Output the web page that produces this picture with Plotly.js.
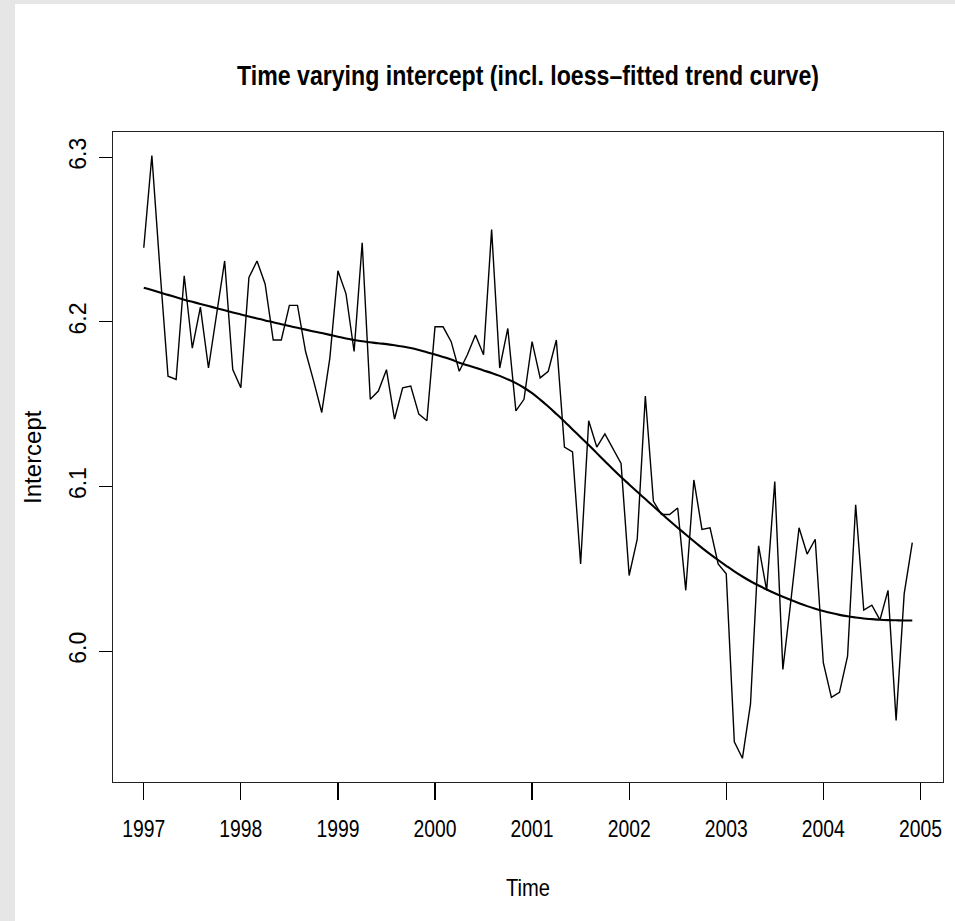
<!DOCTYPE html>
<html>
<head>
<meta charset="utf-8">
<script src="https://cdn.plot.ly/plotly-3.0.1.min.js"></script>
<style>
  html, body { margin: 0; padding: 0; background: #e6e6e6; width: 955px; height: 921px; overflow: hidden; }
  #chart { position: absolute; left: 15px; top: 4px; width: 940px; height: 917px; background: #ffffff; }
</style>
</head>
<body>
<div id="chart"></div>
<script>
// Monthly series, Jan 1997 .. Dec 2004
const startYear = 1997;
const periodsPerYear = 12;

const intercept = [
  6.245, 6.301, 6.232, 6.167, 6.165, 6.228, 6.184, 6.209, 6.172, 6.205, 6.237, 6.171,
  6.160, 6.227, 6.237, 6.223, 6.189, 6.189, 6.210, 6.210, 6.182, 6.164, 6.145, 6.178,
  6.231, 6.217, 6.182, 6.248, 6.153, 6.158, 6.171, 6.141, 6.160, 6.161, 6.144, 6.140,
  6.197, 6.197, 6.188, 6.170, 6.180, 6.192, 6.180, 6.256, 6.172, 6.196, 6.146, 6.153,
  6.188, 6.166, 6.170, 6.189, 6.124, 6.121, 6.053, 6.140, 6.124, 6.132, 6.123, 6.114,
  6.046, 6.068, 6.155, 6.091, 6.083, 6.083, 6.087, 6.037, 6.104, 6.074, 6.075, 6.053,
  6.047, 5.945, 5.935, 5.968, 6.064, 6.037, 6.103, 5.989, 6.031, 6.075, 6.059, 6.068,
  5.993, 5.972, 5.975, 5.997, 6.089, 6.025, 6.028, 6.019, 6.037, 5.958, 6.035, 6.066
];

// loess-fitted trend at each month
const trend = [
  6.2207, 6.2193, 6.2178, 6.2164, 6.2149, 6.2135, 6.2122, 6.2109, 6.2096, 6.2083, 6.2070, 6.2057,
  6.2045, 6.2033, 6.2021, 6.2009, 6.1998, 6.1986, 6.1975, 6.1964, 6.1953, 6.1942, 6.1932, 6.1921,
  6.1910, 6.1899, 6.1890, 6.1882, 6.1876, 6.1870, 6.1865, 6.1858, 6.1850, 6.1841, 6.1829, 6.1815,
  6.1802, 6.1787, 6.1771, 6.1752, 6.1737, 6.1722, 6.1705, 6.1690, 6.1672, 6.1651, 6.1628, 6.1600,
  6.1567, 6.1528, 6.1486, 6.1441, 6.1395, 6.1347, 6.1300, 6.1252, 6.1203, 6.1154, 6.1105, 6.1058,
  6.1013, 6.0968, 6.0924, 6.0880, 6.0836, 6.0792, 6.0750, 6.0709, 6.0668, 6.0628, 6.0590, 6.0554,
  6.0519, 6.0485, 6.0454, 6.0425, 6.0399, 6.0375, 6.0352, 6.0331, 6.0311, 6.0292, 6.0274, 6.0258,
  6.0244, 6.0232, 6.0221, 6.0212, 6.0205, 6.0199, 6.0195, 6.0191, 6.0189, 6.0188, 6.0187, 6.0187
];

const xTickVals = [1997, 1998, 1999, 2000, 2001, 2002, 2003, 2004, 2005];
const yTickVals = [6.0, 6.1, 6.2, 6.3];

const titleText = "Time varying intercept (incl. loess\u2013fitted trend curve)";
const xTitle = "Time";
const yTitle = "Intercept";

const time = intercept.map((_, i) => startYear + i / periodsPerYear);

const sans = "'Liberation Sans', Arial, Helvetica, sans-serif";

const traces = [
  {
    x: time, y: intercept, type: 'scatter', mode: 'lines',
    line: { color: '#000000', width: 1.4 }, hoverinfo: 'skip', showlegend: false
  },
  {
    x: time, y: trend, type: 'scatter', mode: 'lines',
    line: { color: '#000000', width: 2.1, shape: 'spline' }, hoverinfo: 'skip', showlegend: false
  }
];

const layout = {
  width: 940, height: 917,
  paper_bgcolor: '#ffffff', plot_bgcolor: '#ffffff',
  margin: { l: 98, r: 12, t: 128, b: 139 },
  showlegend: false,
  title: {
    text: titleText,
    font: { family: sans, size: 27, color: '#000000', weight: 'bold' },
    x: 0.5, xref: 'paper', xanchor: 'center',
    y: 1 - 72 / 917, yref: 'container', yanchor: 'middle'
  },
  xaxis: {
    range: [1996.683, 2005.233],
    tickmode: 'array', tickvals: xTickVals, ticktext: xTickVals.map(String),
    ticks: 'outside', ticklen: 17, tickwidth: 1.2, tickcolor: '#000000',
    ticklabelstandoff: 8,
    showline: true, linecolor: '#222222', linewidth: 1.4, mirror: true,
    showgrid: false, zeroline: false,
    tickfont: { family: sans, size: 24, color: '#000000' },
    title: { text: xTitle, font: { family: sans, size: 24, color: '#000000' }, standoff: 38 }
  },
  yaxis: {
    range: [5.9206, 6.3153],
    tickmode: 'array', tickvals: yTickVals, ticktext: yTickVals.map(v => v.toFixed(1)),
    tickangle: -90,
    ticks: 'outside', ticklen: 13, tickwidth: 1.2, tickcolor: '#000000',
    ticklabelstandoff: 3,
    showline: true, linecolor: '#222222', linewidth: 1.4, mirror: true,
    showgrid: false, zeroline: false,
    tickfont: { family: sans, size: 23, color: '#000000' }
  },
  annotations: [{
    text: yTitle, textangle: -90, showarrow: false,
    xref: 'paper', yref: 'paper',
    x: (32 - 113) / (942 - 113), y: 0.5,
    xanchor: 'center', yanchor: 'middle',
    font: { family: sans, size: 24, color: '#000000' }
  }]
};

// Horizontal text in the reference is set in a condensed face: squeeze glyphs to the measured widths.
function squeeze(el, target) {
  if (!el) return;
  const w = el.getComputedTextLength();
  if (w > target) {
    el.setAttribute('textLength', target);
    el.setAttribute('lengthAdjust', 'spacingAndGlyphs');
  }
}

Plotly.newPlot('chart', traces, layout, { displayModeBar: false, staticPlot: true }).then(gd => {
  squeeze(gd.querySelector('.gtitle'), 582);
  gd.querySelectorAll('.xtick text').forEach(t => squeeze(t, 43));
  squeeze(gd.querySelector('.xtitle'), 44);
});
</script>
</body>
</html>
